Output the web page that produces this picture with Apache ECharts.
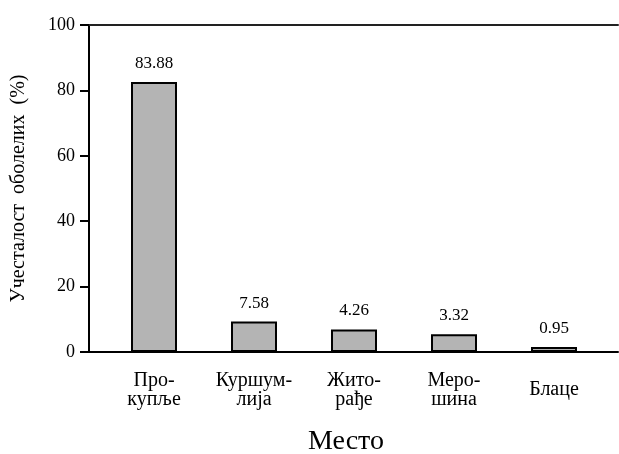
<!DOCTYPE html>
<html>
<head>
<meta charset="utf-8">
<script src="https://cdn.jsdelivr.net/npm/echarts@6/dist/echarts.min.js"></script>
<style>
  html, body { margin: 0; padding: 0; background: #fff; }
  #chart { width: 619px; height: 454px; }
</style>
</head>
<body>
<div id="chart"></div>
<script>
// places (hyphenated as printed under the bars)
const places = ['Про-\nкупље', 'Куршум-\nлија', 'Жито-\nрађе', 'Меро-\nшина', 'Блаце'];
// bar heights as drawn
const barHeights = [82.6, 9.3, 6.9, 5.4, 1.5];
// numbers printed above the bars
const barLabels = ['83.88', '7.58', '4.26', '3.32', '0.95'];
const yTicks = { min: 0, max: 100, interval: 20 };

const serif = "'Liberation Serif', 'DejaVu Serif', serif";
const chart = echarts.init(document.getElementById('chart'));

const option = {
  backgroundColor: '#fff',
  animation: false,
  textStyle: { fontFamily: serif },
  title: {
    text: 'Место',
    left: 303,
    top: 423,
    textStyle: { fontFamily: serif, fontSize: 28, fontWeight: 'normal', color: '#000' },
  },
  grid: [
    // frame with the axis lines
    { left: 89, right: 1, top: 25, bottom: 102, outerBoundsMode: 'none', containLabel: false },
    // bars
    { left: 104, right: 15, top: 25, bottom: 102, outerBoundsMode: 'none', containLabel: false },
  ],
  xAxis: [
    {
      gridIndex: 0, type: 'value', min: 0, max: 1, position: 'bottom',
      axisLine: { show: true, lineStyle: { color: '#000', width: 2 } },
      axisTick: { show: false }, axisLabel: { show: false }, splitLine: { show: false },
    },
    {
      gridIndex: 0, type: 'value', min: 0, max: 1, position: 'top',
      axisLine: { show: true, lineStyle: { color: '#222', width: 2 } },
      axisTick: { show: false }, axisLabel: { show: false }, splitLine: { show: false },
    },
    {
      gridIndex: 1, type: 'category', data: places,
      axisLine: { show: false }, axisTick: { show: false },
      axisLabel: {
        fontFamily: serif, fontSize: 20, color: '#000',
        lineHeight: 19, verticalAlign: 'middle', margin: 38, interval: 0,
      },
    },
  ],
  yAxis: [
    {
      gridIndex: 0, type: 'value', ...yTicks,
      name: 'Учесталост  оболелих  (%)',
      nameLocation: 'middle',
      nameGap: 60,
      nameTextStyle: { fontFamily: serif, fontSize: 20, color: '#000' },
      axisLine: { show: true, lineStyle: { color: '#000', width: 2 } },
      axisTick: { show: true, length: 9, lineStyle: { color: '#000', width: 2 } },
      axisLabel: { fontFamily: serif, fontSize: 18, color: '#000', margin: 14 },
      splitLine: { show: false },
    },
    { gridIndex: 1, type: 'value', ...yTicks, show: false },
  ],
  series: [{
    type: 'bar',
    xAxisIndex: 2,
    yAxisIndex: 1,
    data: barHeights,
    barWidth: 46,
    itemStyle: { color: '#b4b4b4', borderColor: '#000', borderWidth: 2 },
    label: {
      show: true,
      position: 'top',
      distance: 10,
      fontFamily: serif,
      fontSize: 17,
      color: '#000',
      formatter: p => barLabels[p.dataIndex],
    },
  }],
};

chart.setOption(option);
</script>
</body>
</html>
